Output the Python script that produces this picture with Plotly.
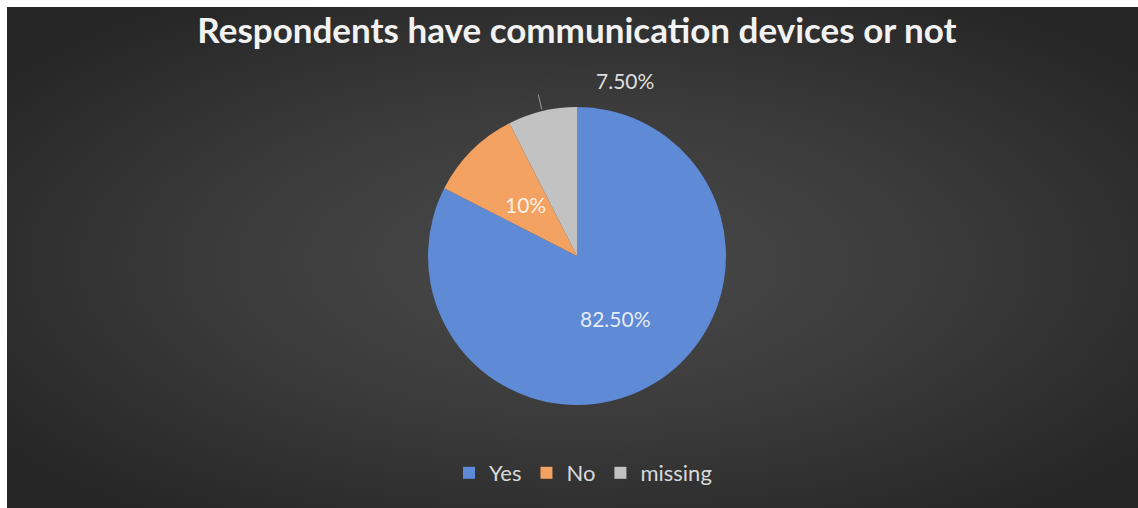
import base64
import math

import plotly.graph_objects as go

# ---- data -------------------------------------------------------------
categories = ["Yes", "No", "missing"]
shares = [82.5, 10, 7.5]
share_labels = ["82.50%", "10%", "7.50%"]

# ---- styling ----------------------------------------------------------
slice_colors = ["#5f8ad6", "#f3a262", "#c2c2c2"]
W, H = 1138, 508
BORDER = 7                      # thin white frame on the left/top edge
cx_px, cy_px, r_px = 577, 256, 149
FONT = "Lato, 'Open Sans', sans-serif"


def to_paper(xp, yp):
    return xp / W, 1 - yp / H


# dark radial backdrop
bg_svg = f"""<svg xmlns="http://www.w3.org/2000/svg" width="{W - BORDER}" height="{H - BORDER}"
 viewBox="0 0 {W - BORDER} {H - BORDER}" preserveAspectRatio="none">
<defs><radialGradient id="g" cx="0.5" cy="0.5" r="0.62">
<stop offset="0" stop-color="#4a4a4a"/>
<stop offset="0.5" stop-color="#3b3b3b"/>
<stop offset="1" stop-color="#262626"/>
</radialGradient></defs>
<rect x="0" y="0" width="{W - BORDER}" height="{H - BORDER}" fill="url(#g)"/>
</svg>"""
bg_uri = "data:image/svg+xml;base64," + base64.b64encode(bg_svg.encode()).decode()

fig = go.Figure(
    go.Pie(
        labels=categories,
        values=shares,
        sort=False,
        direction="clockwise",
        rotation=0,
        textinfo="none",
        hoverinfo="label+percent",
        marker=dict(colors=slice_colors, line=dict(width=0)),
        domain=dict(
            x=[(cx_px - 220) / W, (cx_px + 220) / W],
            y=[1 - (cy_px + r_px) / H, 1 - (cy_px - r_px) / H],
        ),
    )
)

# slice label positions from the cumulative angles
total = sum(shares)
mid_angles = []
acc = 0.0
for v in shares:
    mid_angles.append(math.radians((acc + v / 2) / total * 360))
    acc += v

label_font = dict(family=FONT, size=21, color="rgba(255,255,255,0.85)")
annotations = []
shapes = []
for i, (a, txt) in enumerate(zip(mid_angles, share_labels)):
    if i < 2:
        rr = 0.49 * r_px
        xp = cx_px + rr * math.sin(a)
        yp = cy_px - rr * math.cos(a)
        px, py = to_paper(xp, yp)
        annotations.append(dict(
            x=px, y=py, xref="paper", yref="paper", text=txt, showarrow=False,
            font=label_font, xanchor="center", yanchor="middle",
        ))
    else:
        # outside label with a short leader line
        x0 = cx_px + (r_px + 2) * math.sin(a)
        y0 = cy_px - (r_px + 2) * math.cos(a)
        x1 = cx_px + (r_px + 17) * math.sin(a)
        y1 = cy_px - (r_px + 17) * math.cos(a)
        p0 = to_paper(x0, y0)
        p1 = to_paper(x1, y1)
        shapes.append(dict(type="line", xref="paper", yref="paper",
                           x0=p0[0], y0=p0[1], x1=p1[0], y1=p1[1],
                           line=dict(color="#9a9a9a", width=1)))
        lx, ly = to_paper(x1 + 56, y1 - 14)
        annotations.append(dict(
            x=lx, y=ly, xref="paper", yref="paper", text=txt, showarrow=False,
            font=label_font, xanchor="left", yanchor="middle",
        ))

fig.update_layout(
    width=W,
    height=H,
    margin=dict(l=0, r=0, t=0, b=0),
    paper_bgcolor="#ffffff",
    plot_bgcolor="rgba(0,0,0,0)",
    images=[dict(
        source=bg_uri, xref="paper", yref="paper",
        x=BORDER / W, y=1 - BORDER / H,
        sizex=1 - BORDER / W + 0.01, sizey=1 - BORDER / H + 0.02,
        xanchor="left", yanchor="top", sizing="stretch", layer="below",
    )],
    title=dict(
        text="<b>Respondents have communication devices or not</b>",
        x=cx_px / W, y=1 - 31 / H, xanchor="center", yanchor="middle",
        xref="paper", yref="paper",
        font=dict(family=FONT, size=35, color="#f2f2f2"),
    ),
    legend=dict(
        orientation="h",
        x=(cx_px + 6) / W, y=1 - 473 / H, xanchor="center", yanchor="middle",
        font=dict(family=FONT, size=22, color="#d9d9d9"),
        bgcolor="rgba(0,0,0,0)",
        itemclick=False,
    ),
    annotations=annotations,
    shapes=shapes,
)

fig.write_html("out.html")
